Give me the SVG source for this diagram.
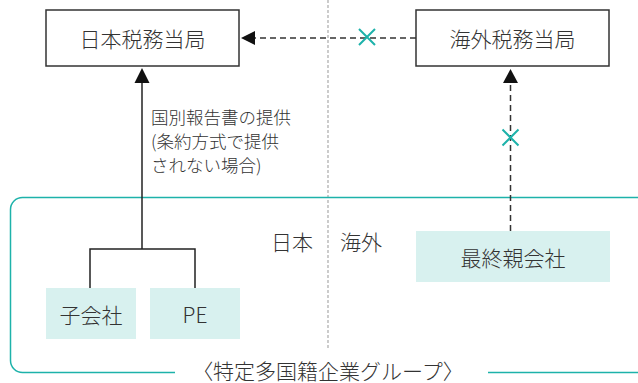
<svg xmlns="http://www.w3.org/2000/svg" width="638" height="383" viewBox="0 0 638 383">
<defs>
<style>
text{font-family:"Noto Sans CJK JP","Noto Sans",sans-serif;fill:#333;font-weight:300;}
.t{font-size:21px;text-anchor:middle;dominant-baseline:central;}
.s{font-size:17.5px;}
.box{fill:#fff;stroke:#333;stroke-width:1.5;}
.sub{fill:#d8f1ef;}
.ln{fill:none;stroke:#222;stroke-width:1.5;}
.dash{fill:none;stroke:#333;stroke-width:1.5;stroke-dasharray:6 4;}
.x{stroke:#1db2aa;stroke-width:2;fill:none;}
.grp{fill:none;stroke:#1db2aa;stroke-width:1.5;}
</style>
</defs>
<g id="divider">
<line x1="328" y1="0" x2="328" y2="348" stroke="#aaa" stroke-width="1.2" stroke-dasharray="3 2"/>
</g>
<g id="group-frame">
<path class="grp" d="M175,372.5 L22.5,372.5 A12,12 0 0 1 10.5,360.5 L10.5,209.5 A12,12 0 0 1 22.5,197.5 L650,197.5"/>
<path class="grp" d="M488,372.5 L650,372.5"/>
<text class="t" x="328" y="369.5">〈特定多国籍企業グループ〉</text>
</g>
<g id="labels">
<text class="t" x="292" y="241">日本</text>
<text class="t" x="361" y="241">海外</text>
</g>
<g id="connectors">
<polyline class="ln" points="90,288 90,249 195,249 195,288"/>
<line class="ln" x1="142" y1="249" x2="142" y2="83"/>
<path d="M142,68 L134.5,83 L149.5,83 z" fill="#111"/>
<line class="dash" x1="416" y1="38" x2="255" y2="38"/>
<path d="M241,38 L255,31 L255,45 z" fill="#111"/>
<line class="dash" x1="510.5" y1="231" x2="510.5" y2="83"/>
<path d="M510.5,69 L503,83 L518,83 z" fill="#111"/>
<path class="x" d="M359,29 L375,45 M375,29 L359,45"/>
<path class="x" d="M502.5,129.5 L518.5,145.5 M518.5,129.5 L502.5,145.5"/>
<text class="s" x="151" y="124">国別報告書の提供</text>
<text class="s" x="151" y="148">(条約方式で提供</text>
<text class="s" x="151" y="172">されない場合)</text>
</g>
<g id="jp-tax">
<rect class="box" x="46" y="10" width="193" height="56"/>
<text class="t" x="142.5" y="38">日本税務当局</text>
</g>
<g id="foreign-tax">
<rect class="box" x="416" y="10" width="193" height="56"/>
<text class="t" x="512.5" y="38">海外税務当局</text>
</g>
<g id="ultimate-parent">
<rect class="sub" x="416" y="231" width="194" height="51"/>
<text class="t" x="513" y="256.5">最終親会社</text>
</g>
<g id="subsidiary">
<rect class="sub" x="46" y="288" width="90" height="51"/>
<text class="t" x="91" y="313.5">子会社</text>
</g>
<g id="pe">
<rect class="sub" x="150" y="288" width="90" height="51"/>
<text class="t" x="195" y="313.5">PE</text>
</g>
</svg>
